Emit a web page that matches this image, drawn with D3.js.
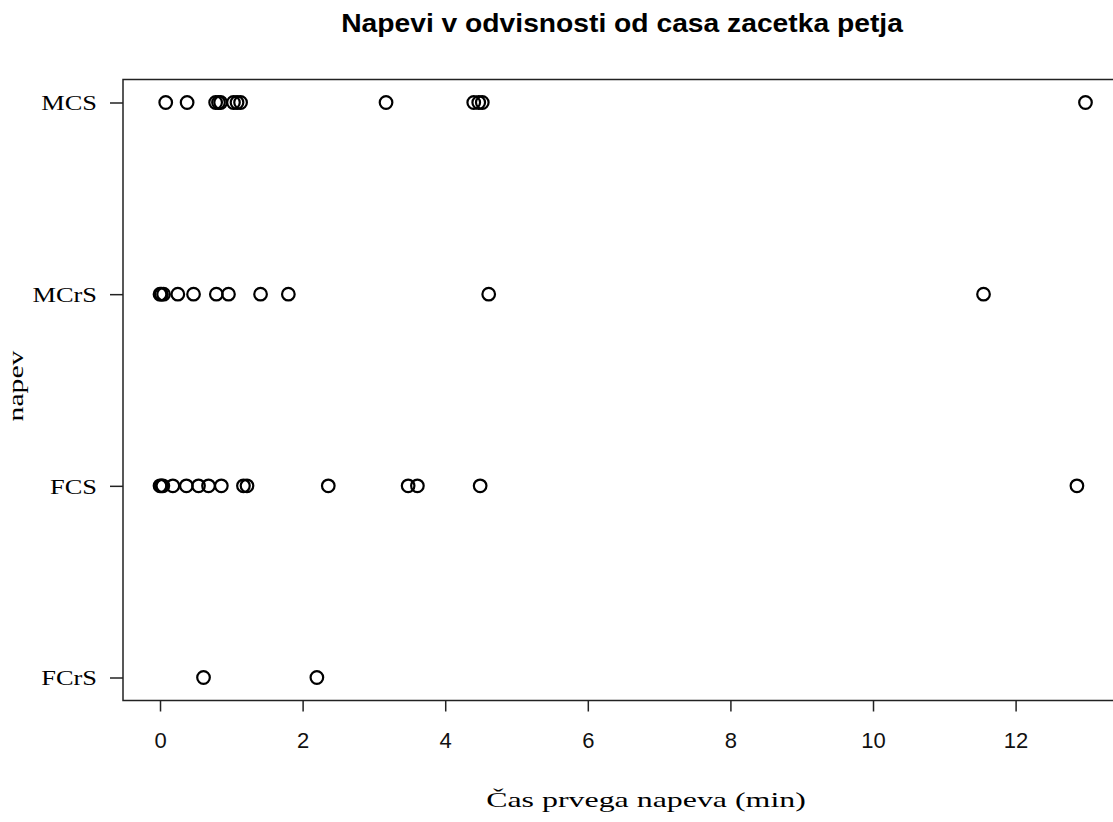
<!DOCTYPE html>
<html>
<head>
<meta charset="utf-8">
<script src="https://cdn.jsdelivr.net/npm/d3@7"></script>
<style>
  html, body { margin: 0; padding: 0; background: #fff; }
  svg { display: block; }
</style>
</head>
<body>
<script>
// Song types, bottom to top
const categories = ["FCrS", "FCS", "MCrS", "MCS"];

// Time of first song (min) for each type
const fcrsTimes = [0.61, 2.20];
const fcsTimes  = [0.00, 0.02, 0.04, 0.18, 0.37, 0.54, 0.68, 0.86, 1.17, 1.22, 2.36, 3.48, 3.61, 4.49, 12.86];
const mcrsTimes = [0.00, 0.02, 0.05, 0.25, 0.47, 0.79, 0.96, 1.41, 1.80, 4.61, 11.55];
const mcsTimes  = [0.08, 0.38, 0.78, 0.82, 0.85, 1.03, 1.08, 1.13, 3.17, 4.40, 4.47, 4.52, 12.98];

const xTicks = [0, 2, 4, 6, 8, 10, 12];

const seriesByCategory = {
  FCrS: fcrsTimes,
  FCS: fcsTimes,
  MCrS: mcrsTimes,
  MCS: mcsTimes
};

const W = 1113, H = 822;
const plot = { left: 123, right: 1122.5, top: 79.5, bottom: 700.5 };
const SERIF = "'Liberation Serif', 'Times New Roman', serif";
const SANS = "'Liberation Sans', Arial, sans-serif";

const svg = d3.select("body").append("svg")
  .attr("width", W).attr("height", H);

// R-style 4% padding around the data range
const allTimes = [].concat(fcrsTimes, fcsTimes, mcrsTimes, mcsTimes);
const xmin = d3.min(allTimes), xmax = d3.max(allTimes);
const pad = (xmax - xmin) * 0.04;
const x = d3.scaleLinear().domain([xmin - pad, xmax + pad]).range([plot.left, plot.right]);

const ypad = (categories.length - 1) * 0.04;
const y = d3.scaleLinear().domain([1 - ypad, categories.length + ypad]).range([plot.bottom, plot.top]);

const points = [];
categories.forEach((c, i) => {
  seriesByCategory[c].forEach(v => points.push({ cat: c, level: i + 1, t: v }));
});

// Frame
svg.append("rect")
  .attr("x", plot.left).attr("y", plot.top)
  .attr("width", plot.right - plot.left).attr("height", plot.bottom - plot.top)
  .attr("fill", "none").attr("stroke", "#222").attr("stroke-width", 1.5);

// X axis
const xAxis = d3.axisBottom(x).tickValues(xTicks).tickSize(11).tickPadding(21).tickFormat(d3.format("d"));
const gx = svg.append("g").attr("transform", `translate(0,${plot.bottom})`).call(xAxis);
gx.select(".domain").remove();
gx.selectAll(".tick line").attr("stroke", "#222").attr("stroke-width", 1.5);
gx.selectAll(".tick text")
  .attr("fill", "#111")
  .style("font-family", SANS)
  .style("font-size", "22px");

// Y axis (category labels drawn in a wide serif face)
const yTickLen = 13, yTickPad = 13;
const yAxis = d3.axisLeft(y).tickValues(categories.map((c, i) => i + 1))
  .tickFormat(d => categories[d - 1]).tickSize(yTickLen).tickPadding(yTickPad);
const gy = svg.append("g").attr("transform", `translate(${plot.left},0)`).call(yAxis);
gy.select(".domain").remove();
gy.selectAll(".tick line").attr("stroke", "#222").attr("stroke-width", 1.5);
gy.selectAll(".tick text")
  .attr("fill", "#000")
  .attr("x", 0)
  .attr("dy", "0.33em")
  .attr("transform", `translate(${-(yTickLen + yTickPad)},0) scale(1.2,1)`)
  .style("font-family", SERIF)
  .style("font-size", "22px");

// Points
svg.append("g").selectAll("circle")
  .data(points)
  .join("circle")
  .attr("cx", d => x(d.t))
  .attr("cy", d => y(d.level))
  .attr("r", 6.3)
  .attr("fill", "none")
  .attr("stroke", "#000")
  .attr("stroke-width", 2.2);

// Title
svg.append("text")
  .attr("transform", "translate(622,32) scale(1.13,1)")
  .attr("text-anchor", "middle")
  .style("font-family", SANS)
  .style("font-weight", "bold")
  .style("font-size", "25px")
  .text("Napevi v odvisnosti od casa zacetka petja");

// Axis titles
svg.append("text")
  .attr("transform", "translate(646,807) scale(1.45,1)")
  .attr("text-anchor", "middle")
  .style("font-family", SERIF)
  .style("font-size", "22px")
  .text("Čas prvega napeva (min)");

svg.append("text")
  .attr("transform", `translate(23,${(plot.top + plot.bottom) / 2 - 4}) rotate(-90) scale(1.35,1)`)
  .attr("text-anchor", "middle")
  .style("font-family", SERIF)
  .style("font-size", "22px")
  .text("napev");
</script>
</body>
</html>
